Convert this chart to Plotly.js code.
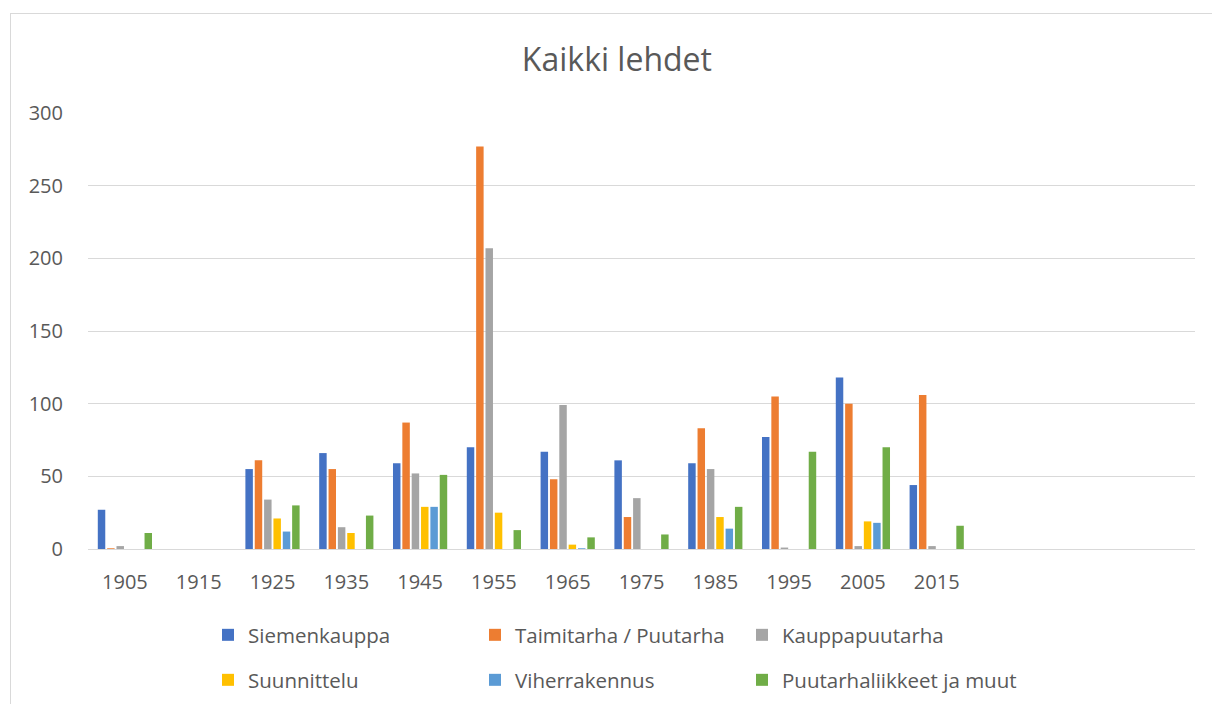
<!DOCTYPE html>
<html>
<head>
<meta charset="utf-8">
<script src="https://cdn.plot.ly/plotly-3.0.1.min.js"></script>
<style>
  html, body { margin: 0; padding: 0; background: #fff; overflow: hidden; width: 1212px; height: 704px; }
  #chart { width: 1212px; height: 724px; position: absolute; left: 0; top: 0; }
  #frame { position: absolute; left: 10px; top: 13px; width: 1220px; height: 720px; border: 1px solid #d9d9d9; pointer-events: none; }
</style>
</head>
<body>
<div id="chart"></div>
<div id="frame"></div>
<script>
const years = [1905, 1915, 1925, 1935, 1945, 1955, 1965, 1975, 1985, 1995, 2005, 2015];
const tickLabels = ['1905', '1915', '1925', '1935', '1945', '1955', '1965', '1975', '1985', '1995', '2005', '2015'];

const siemenkauppa     = [27, 0, 55, 66, 59, 70, 67, 61, 59, 77, 118, 44];
const taimitarha       = [0.5, 0, 61, 55, 87, 277, 48, 22, 83, 105, 100, 106];
const kauppapuutarha   = [2, 0, 34, 15, 52, 207, 99, 35, 55, 1, 2, 2];
const suunnittelu      = [0, 0, 21, 11, 29, 25, 3, 0, 22, 0, 19, 0];
const viherrakennus    = [0, 0, 12, 0, 29, 0, 0.5, 0, 14, 0, 18, 0];
const puutarhaliikkeet = [11, 0, 30, 23, 51, 13, 8, 10, 29, 67, 70, 16];

const seriesNames = ['Siemenkauppa', 'Taimitarha / Puutarha', 'Kauppapuutarha',
                     'Suunnittelu', 'Viherrakennus', 'Puutarhaliikkeet ja muut'];
const seriesValues = [siemenkauppa, taimitarha, kauppapuutarha, suunnittelu, viherrakennus, puutarhaliikkeet];
const colors = ['#4472C4', '#ED7D31', '#A5A5A5', '#FFC000', '#5B9BD5', '#70AD47'];
const legendIds = ['legend', 'legend2', 'legend3', 'legend4', 'legend5', 'legend6'];

const font = '"Open Sans", "Noto Sans", sans-serif';
const textColor = '#595959';

const traces = seriesNames.map((name, i) => ({
  type: 'bar',
  name: name,
  x: years,
  y: seriesValues[i],
  marker: { color: colors[i], line: { width: 0 } },
  legend: legendIds[i],
  hoverinfo: 'x+y+name'
}));

// figure is 724 tall (bottom 20px clipped by the 704 window)
const figH = 724;
const plotL = 88, plotW = 1107, plotT = 113, plotB = 549, plotH = plotB - plotT;
const colPx = [208, 475, 742];
const rowTopPx = [615, 660];

const layout = {
  width: 1212,
  height: figH,
  margin: { l: 88, r: 17, t: plotT, b: figH - plotB },
  paper_bgcolor: '#ffffff',
  plot_bgcolor: '#ffffff',
  font: { family: font, color: textColor },
  title: {
    text: 'Kaikki lehdet',
    font: { family: font, size: 32, color: textColor },
    x: 0.509, xanchor: 'center',
    y: 1 - 60 / figH, yanchor: 'middle'
  },
  barmode: 'group',
  bargap: 0.24,
  bargroupgap: 0.2,
  xaxis: {
    range: [1900, 2050],
    tickmode: 'array',
    tickvals: years,
    ticktext: tickLabels,
    ticks: 'outside',
    ticklen: 15,
    tickcolor: 'rgba(0,0,0,0)',
    showgrid: false,
    zeroline: false,
    showline: false,
    tickfont: { family: font, size: 20, color: textColor },
    fixedrange: true
  },
  yaxis: {
    range: [0, 300],
    dtick: 50,
    tick0: 0,
    showgrid: true,
    gridcolor: '#d9d9d9',
    gridwidth: 1,
    zeroline: true,
    zerolinecolor: '#d9d9d9',
    zerolinewidth: 1,
    showline: false,
    ticks: 'outside',
    ticklen: 20,
    tickcolor: 'rgba(0,0,0,0)',
    tickfont: { family: font, size: 20, color: textColor },
    fixedrange: true
  },
  showlegend: true
};

legendIds.forEach((id, i) => {
  const col = i % 3, row = Math.floor(i / 3);
  layout[id] = {
    orientation: 'v',
    font: { family: font, size: 20.5, color: textColor },
    bgcolor: 'rgba(0,0,0,0)',
    tracegroupgap: 0,
    xanchor: 'left',
    yanchor: 'top',
    itemwidth: 30,
    x: (colPx[col] - plotL) / plotW,
    y: (plotB - rowTopPx[row]) / plotH
  };
});

Plotly.newPlot('chart', traces, layout, { displayModeBar: false, staticPlot: true });
</script>
</body>
</html>
